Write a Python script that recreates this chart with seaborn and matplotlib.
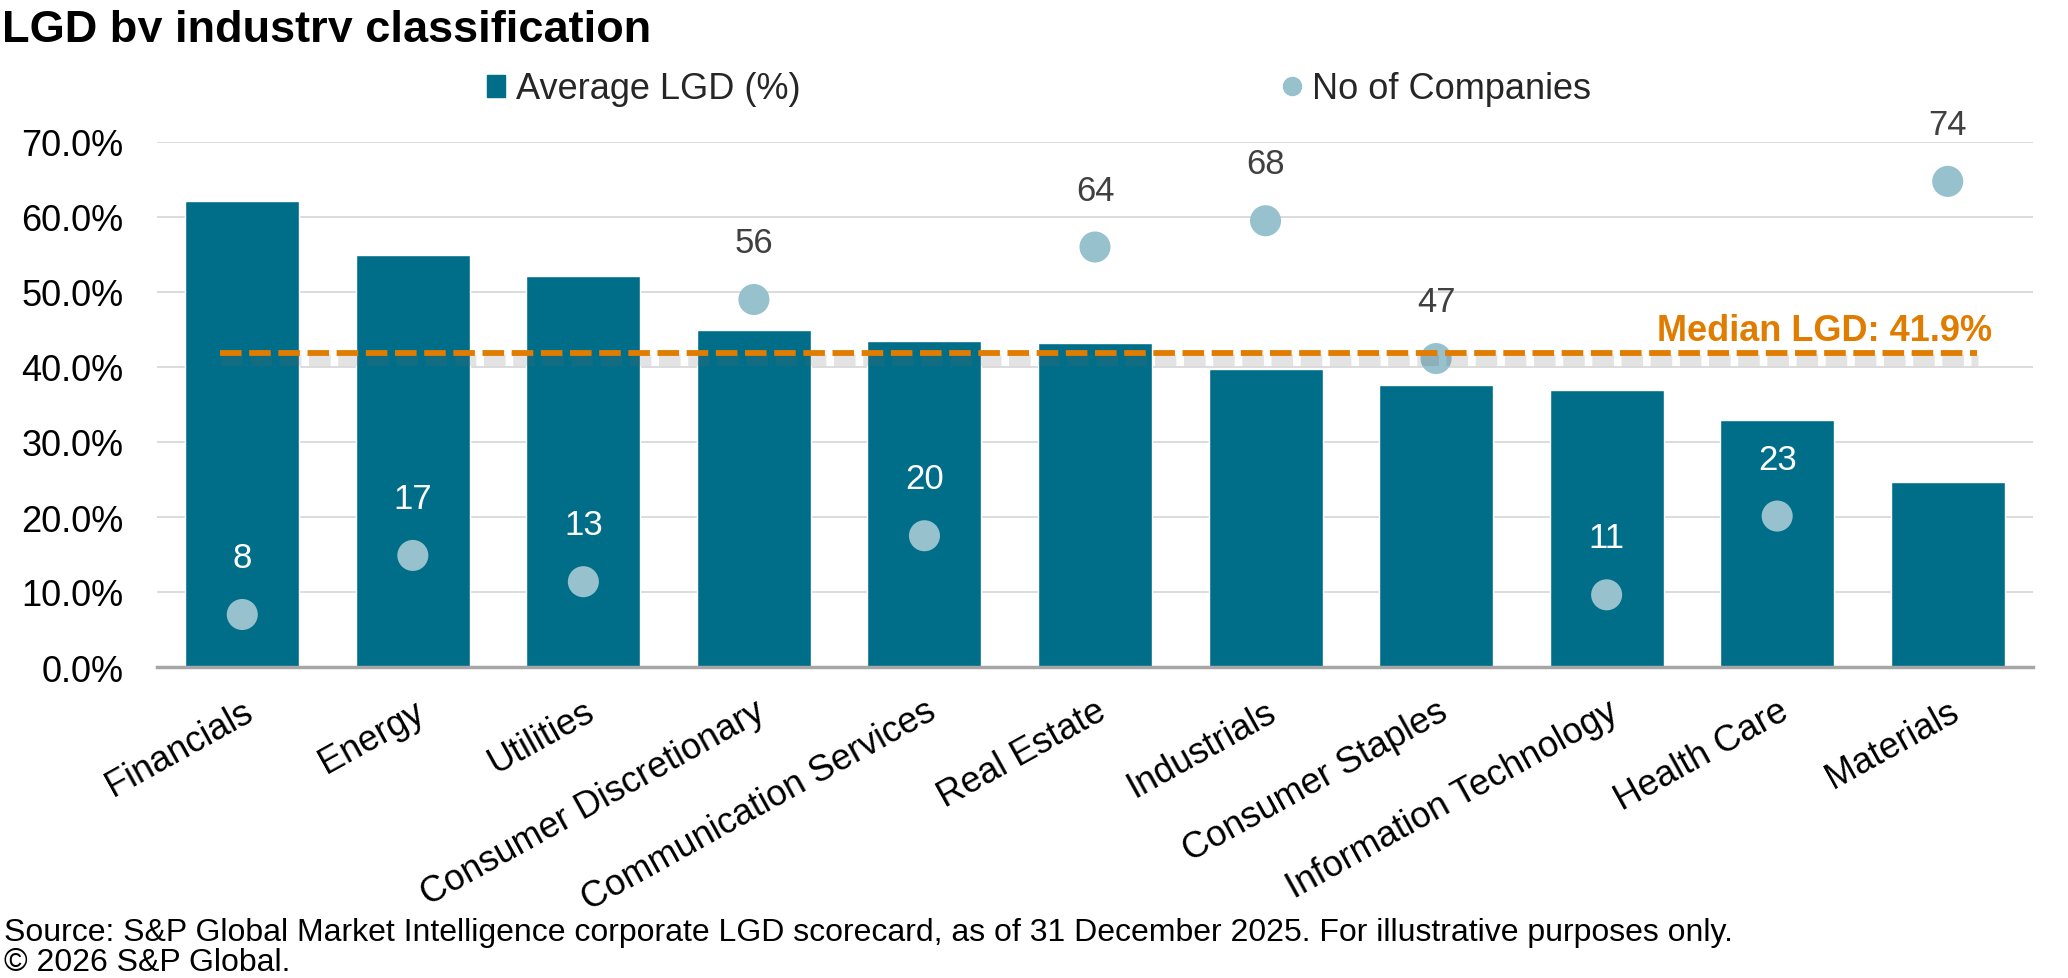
import numpy as np
import pandas as pd
import matplotlib
matplotlib.use("Agg")
import matplotlib.pyplot as plt
import matplotlib.patheffects as pe
from matplotlib.lines import Line2D
from matplotlib.patches import Patch
from matplotlib.ticker import PercentFormatter
from matplotlib.transforms import Bbox
import seaborn as sns

# ---- data ----
industries = ["Financials", "Energy", "Utilities", "Consumer Discretionary",
              "Communication Services", "Real Estate", "Industrials",
              "Consumer Staples", "Information Technology", "Health Care", "Materials"]
avg_lgd = [62.2, 55.0, 52.2, 44.9, 43.5, 43.2, 39.7, 37.6, 37.0, 33.0, 24.7]
n_companies = [8, 17, 13, 56, 20, 64, 68, 47, 11, 23, 74]
median_lgd = 41.9

BAR = "#006e89"
DOT = "#96c1cd"
ORANGE = "#e07c00"
GRID = "#d9d9d9"
LABEL_DARK = "#404040"

sns.set_theme(style="white")
plt.rcParams["font.family"] = ["Liberation Sans", "DejaVu Sans"]

df = pd.DataFrame({"industry": industries, "lgd": avg_lgd, "companies": n_companies})
pos = np.arange(len(df))

W, H = 2068, 979
fig = plt.figure(figsize=(W / 100, H / 100), dpi=100)
ax = fig.add_axes([157 / W, 1 - 668 / H, (2033 - 157) / W, (668 - 143) / H])

# bars (primary axis, percent)
sns.barplot(data=df, x="industry", y="lgd", color=BAR, saturation=1,
            width=0.668, ax=ax, zorder=2)
ax.set_xlim(-0.5, len(df) - 0.5)
ax.set_ylim(0, 70)
ax.set_yticks(np.arange(0, 71, 10))
ax.yaxis.set_major_formatter(PercentFormatter(decimals=1))
ax.yaxis.grid(True, color=GRID, lw=1.3)
ax.set_axisbelow(True)
ax.set_xlabel("")
ax.set_ylabel("")
for side in ["top", "right", "left"]:
    ax.spines[side].set_visible(False)
ax.spines["bottom"].set_color("#a6a6a6")
ax.spines["bottom"].set_linewidth(2.5)
ax.tick_params(axis="y", labelsize=26, length=0, pad=24, labelcolor="black")
ax.tick_params(axis="x", labelsize=26, length=0, pad=19, labelcolor="black")
for lab in ax.get_xticklabels():
    lab.set_rotation(29)
    lab.set_ha("right")
    lab.set_rotation_mode("anchor")

# company counts on a hidden secondary axis (0-80)
ax2 = ax.twinx()
sns.scatterplot(x=pos, y=df["companies"], ax=ax2, color=DOT, s=500,
                edgecolor="none", legend=False, zorder=3)
ax2.set_ylim(0, 80)
ax2.set_yticks([])
ax2.set_ylabel("")
for side in ax2.spines:
    ax2.spines[side].set_visible(False)

for i, (n, v) in enumerate(zip(n_companies, avg_lgd)):
    inside = n / 80 * 70 < v
    ax2.annotate(str(n), (i, n), xytext=(0, 41), textcoords="offset points",
                 ha="center", va="center", fontsize=25,
                 color="white" if inside else LABEL_DARK)

# median line, drawn over the dots
ax2.plot([-0.13, 10.17], [median_lgd, median_lgd], transform=ax.transData,
         color=ORANGE, lw=4.2, ls=(0, (3.7, 1.3)), dash_capstyle="butt",
         zorder=5,
         path_effects=[pe.SimpleLineShadow(offset=(1, -5), shadow_color="#666666",
                                           alpha=0.18, linewidth=8),
                       pe.Normal()])
ax.text(10.26, median_lgd + 1.7, f"Median LGD: {median_lgd}%", ha="right",
        va="baseline", color=ORANGE, fontsize=26, fontweight="bold")

# legend, two entries spread like the original
fig.legend(handles=[Patch(color=BAR)], labels=["Average LGD (%)"],
           loc="center left", bbox_to_anchor=(487 / W, 1 - 90 / H),
           frameon=False, fontsize=26, handlelength=0.5, handleheight=0.55,
           handletextpad=0.3, borderpad=0, borderaxespad=0)
fig.legend(handles=[Line2D([], [], marker="o", ls="none", color=DOT,
                           markersize=13)],
           labels=["No of Companies"],
           loc="center left", bbox_to_anchor=(1283 / W, 1 - 90 / H),
           frameon=False, fontsize=26, handlelength=0.5,
           handletextpad=0.3, borderpad=0, borderaxespad=0)

# title (cut at the baseline like the source image)
title = fig.text(0.001, 1 - 42 / H, "LGD by industry classification", fontsize=32.5,
                 fontweight="bold", va="baseline", color="black")
title.set_clip_box(Bbox.from_extents(0, H - 43, W, H))
title.set_clip_on(True)

fig.text(0.002, 1 - 941 / H,
         "Source: S&P Global Market Intelligence corporate LGD scorecard, as of 31 December 2025. "
         "For illustrative purposes only.", fontsize=23, va="baseline", color="black")
fig.text(0.002, 1 - 971 / H, "\u00a9 2026 S&P Global.", fontsize=23,
         va="baseline", color="black")

fig.savefig("out.png", dpi=100, facecolor="white")
